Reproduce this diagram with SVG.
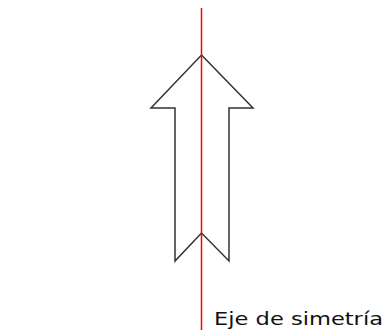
<svg xmlns="http://www.w3.org/2000/svg" width="387" height="333" viewBox="0 0 387 333">
<style>
.arrow{fill:#fff;stroke:#333;stroke-width:1.5;stroke-linejoin:miter}
.axis{stroke:#f00;stroke-width:1.5}
.lbl{font-family:"DejaVu Sans",sans-serif;font-size:17px;fill:#111}
</style>
<rect width="387" height="333" fill="#fff"/>
<g id="arrow">
<polygon class="arrow" points="201.5,55 253,108 229,108 229,261 201.5,233 175,261 175,108 151,108"/>
</g>
<g id="connectors">
<line class="axis" x1="201.5" y1="8" x2="201.5" y2="330"/>
</g>
<g id="label">
<text class="lbl" x="214" y="325" textLength="169" lengthAdjust="spacingAndGlyphs">Eje de simetría</text>
</g>
</svg>
